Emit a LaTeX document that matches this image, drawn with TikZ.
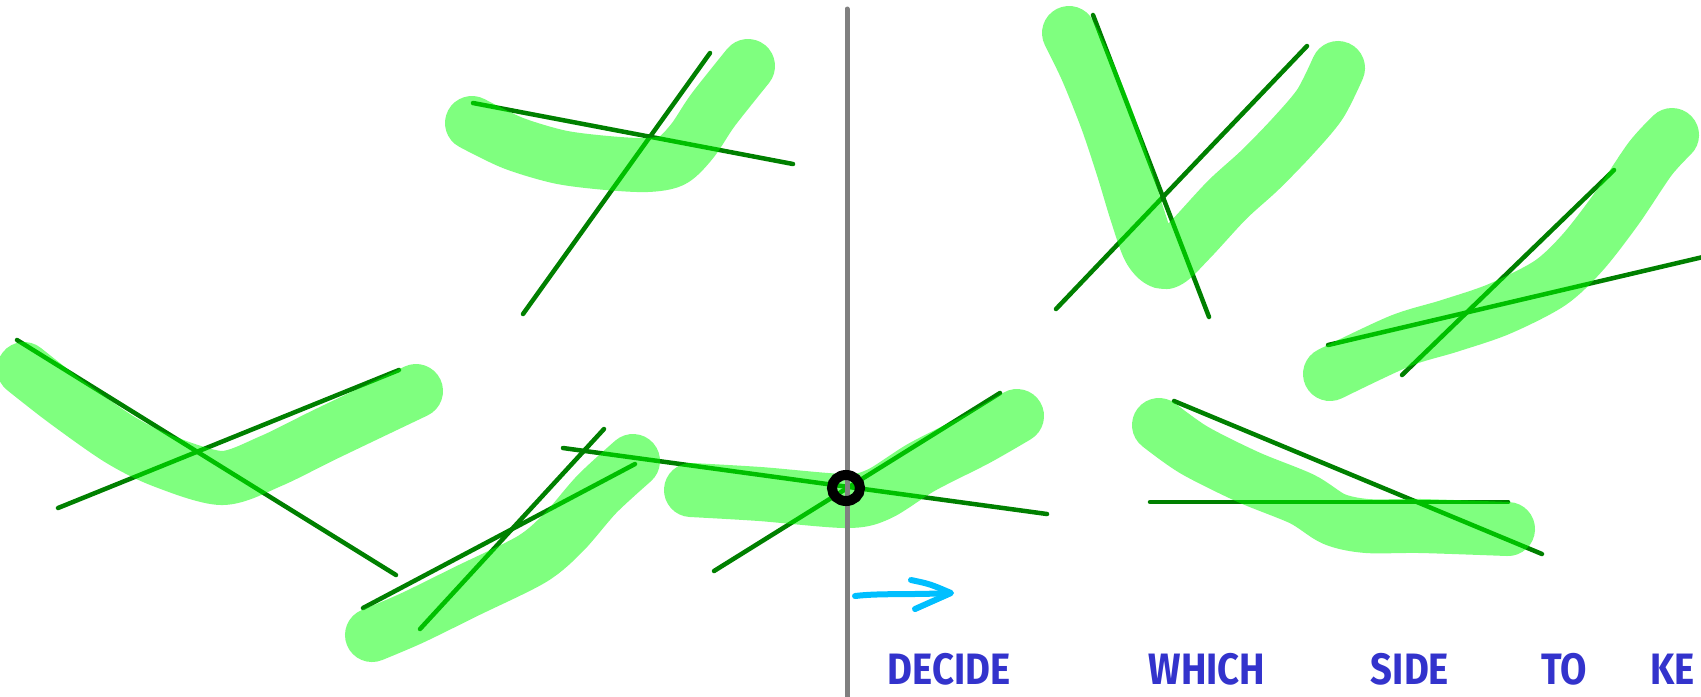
\documentclass[tikz,border=0pt]{standalone}
\usepackage{fontspec}
\newfontfamily\handfont[FakeStretch=0.87]{Fira Sans}
\usetikzlibrary{arrows.meta}
\definecolor{hlgreen}{RGB}{0,255,0}
\definecolor{fitgreen}{RGB}{0,128,0}
\definecolor{axisgray}{RGB}{128,128,128}
\definecolor{arrowblue}{RGB}{0,191,255}
\definecolor{noteblue}{RGB}{51,51,204}
\tikzset{
  highlight/.style={draw=hlgreen, draw opacity=0.5, line width=0.54cm,
    line cap=round, line join=round},
  fitline/.style={draw=fitgreen, line width=0.045cm, line cap=round},
  divider/.style={draw=axisgray, line width=0.05cm, line cap=round},
  pivot/.style={draw=black, line width=0.1cm},
  hint/.style={draw=arrowblue, line width=0.06cm, line cap=round, line join=round},
  note/.style={text=noteblue, font=\handfont\bfseries\fontsize{12.5}{13}\selectfont,
    inner sep=0pt, anchor=base west}
}

\begin{document}
\begin{tikzpicture}[x=0.01cm, y=-0.01cm]
  \useasboundingbox (0,0) rectangle (1701,696);
  \clip (0,0) rectangle (1701,696);

  % fitted lines
  \draw[fitline] (17,340) -- (396,575);
  \draw[fitline] (58,508) -- (399,370);
  \draw[fitline] (473,103) -- (793,164);
  \draw[fitline] (523,314) -- (710,53);
  \draw[fitline] (363,608) -- (635,464);
  \draw[fitline] (420,629) -- (604,429);
  \draw[fitline] (563,448) -- (1047,514);
  \draw[fitline] (714,571) -- (1000,393);
  \draw[fitline] (1093,15) -- (1209,317);
  \draw[fitline] (1056,309) -- (1307,46);
  \draw[fitline] (1328,345) -- (1720,253);
  \draw[fitline] (1402,375) -- (1614,170);
  \draw[fitline] (1150,502) -- (1508,502);
  \draw[fitline] (1174,401) -- (1542,554);

  % highlighter strokes
  \draw[highlight] plot[smooth] coordinates {(24,369) (65,401) (119,439) (163,461)
    (222,478) (271,461) (326,434) (416,391)};
  \draw[highlight] plot[smooth] coordinates {(472,123) (513,143) (560,157) (607,163)
    (647,165) (673,160) (693,140) (713,110) (748,66)};
  \draw[highlight] plot[smooth] coordinates {(372,635) (412,618) (467,591) (532,559)
    (564,532) (597,494) (633,461)};
  \draw[highlight] plot[smooth] coordinates {(691,490) (760,494) (846,501) (879,494)
    (922,467) (977,439) (1017,416)};
  \draw[highlight] plot[smooth] coordinates {(1069,33) (1087,70) (1107,120) (1123,168)
    (1137,214) (1150,250) (1166,262) (1190,240) (1227,200) (1260,170) (1293,136)
    (1320,104) (1338,68)};
  \draw[highlight] plot[smooth] coordinates {(1330,374) (1400,341) (1449,326)
    (1499,309) (1550,283) (1583,252) (1617,208) (1650,159) (1672,135)};
  \draw[highlight] plot[smooth] coordinates {(1159,425) (1194,450) (1248,477)
    (1302,499) (1334,519) (1367,526) (1421,526) (1508,529)};

  % dividing line and pivot
  \draw[divider] (847,9) -- (847,720);
  \draw[pivot] (846,488) ellipse [x radius=0.14cm, y radius=0.13cm];

  % direction hint
  \draw[hint] (855,596) .. controls (880,593) and (910,595) .. (949,593);
  \draw[hint] (911,580) .. controls (930,584) .. (951,593) -- (915,609);

  \node[note] (caption) at (887,684) {\makebox[2.61cm][l]{DECIDE}\makebox[2.22cm][l]{WHICH}\makebox[1.70cm][l]{SIDE}\makebox[1.09cm][l]{TO}KE};
\end{tikzpicture}
\end{document}
